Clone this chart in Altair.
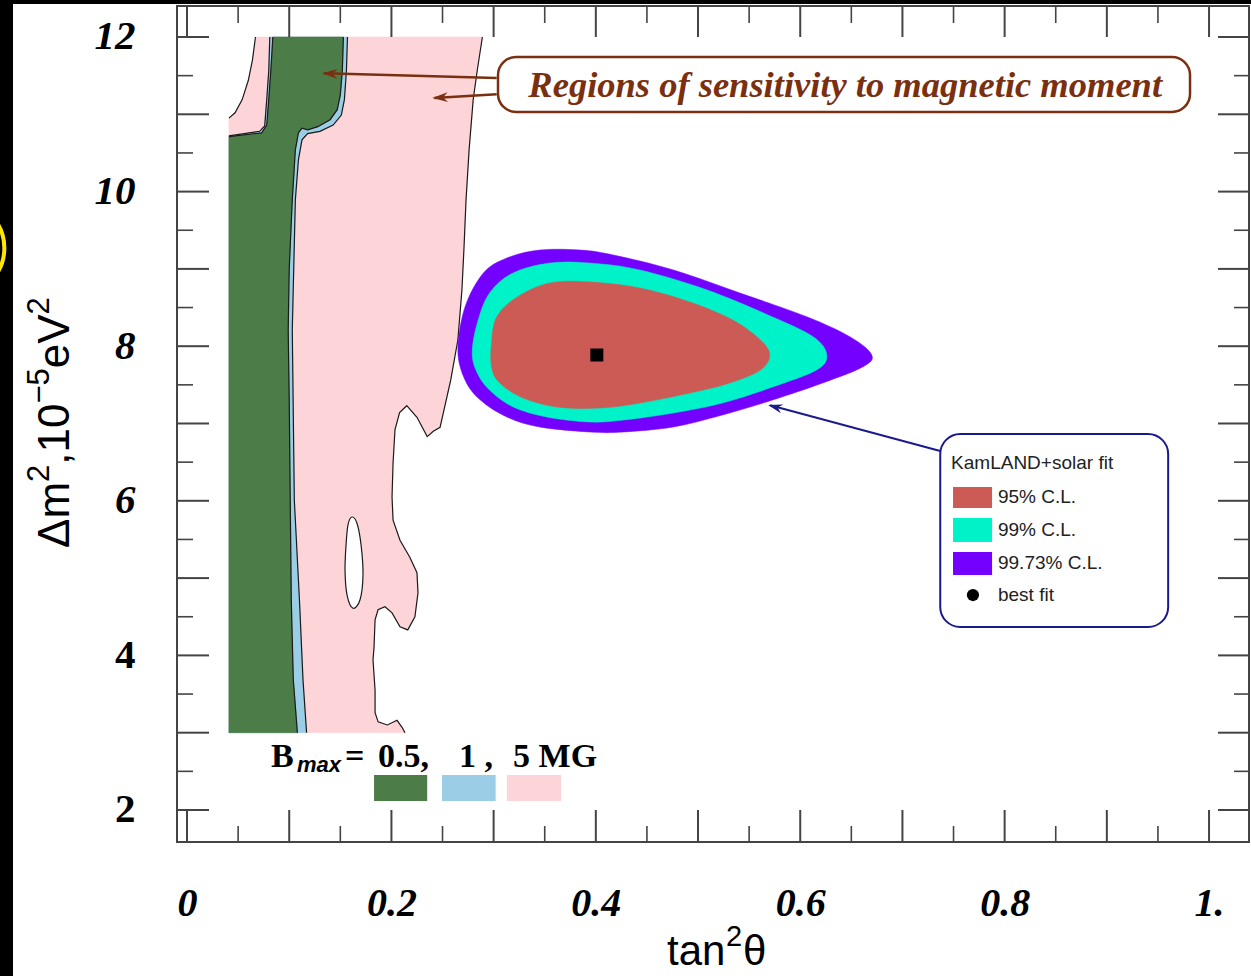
import altair as alt
import pandas as pd

# ---------------------------------------------------------------- frame / axes
X_DOMAIN = [-0.0098, 1.0391]
Y_DOMAIN = [1.586, 12.401]
W, H = 1072, 836

x_major = [0.0, 0.1, 0.2, 0.3, 0.4, 0.5, 0.6, 0.7, 0.8, 0.9, 1.0]
x_minor = [0.05, 0.15, 0.25, 0.35, 0.45, 0.55, 0.65, 0.75, 0.85, 0.95]
y_major = [2, 3, 4, 5, 6, 7, 8, 9, 10, 11, 12]
y_minor = [2.5, 3.5, 4.5, 5.5, 6.5, 7.5, 8.5, 9.5, 10.5, 11.5]
x_labels = [0.0, 0.2, 0.4, 0.6, 0.8, 1.0]
y_labels = [2, 4, 6, 8, 10, 12]

# axis titles, written piece by piece so the exponents can be raised
x_title_text = ["tan", "2", "θ"]
y_title_text = ["Δm", "2", ",10", "−5", "eV", "2"]

# edges of the computed sensitivity map (no contour line is drawn along them)
MAP_LEFT, MAP_BOTTOM, MAP_TOP = 0.041, 3.0, 12.0

# ---------------------------------------------------------------- B_max regions
region_5MG = [
    (0.067, 12.0), (0.289, 12.0), (0.284, 11.57), (0.280, 11.19), (0.276, 10.54),
    (0.273, 9.89), (0.271, 9.27), (0.269, 8.73), (0.265, 8.08), (0.258, 7.56),
    (0.2476, 6.95), (0.241, 6.90), (0.235, 6.83), (0.225, 7.08), (0.215, 7.23),
    (0.208, 7.14), (0.2035, 6.92), (0.2016, 6.49), (0.2006, 6.05), (0.2016, 5.75),
    (0.2084, 5.49), (0.218, 5.27), (0.225, 5.07), (0.226, 4.81), (0.223, 4.50),
    (0.216, 4.33), (0.2084, 4.37), (0.2006, 4.55), (0.1937, 4.63), (0.1869, 4.59),
    (0.184, 4.46), (0.183, 4.11), (0.182, 3.94), (0.184, 3.55), (0.184, 3.26),
    (0.187, 3.14), (0.196, 3.10), (0.2055, 3.16), (0.2104, 3.07), (0.2133, 3.0),
    (0.041, 3.0), (0.041, 10.95), (0.047, 11.02), (0.054, 11.19), (0.060, 11.44),
    (0.064, 11.70),
]
hole_5MG = [
    (0.1614, 5.79), (0.1575, 5.69), (0.1556, 5.43), (0.1546, 5.10), (0.1566, 4.78),
    (0.1624, 4.61), (0.1693, 4.72), (0.1722, 5.04), (0.1703, 5.43), (0.1663, 5.71),
]
region_1MG = [
    (0.081, 12.0), (0.157, 12.0), (0.156, 11.57), (0.154, 11.19), (0.151, 10.99),
    (0.143, 10.86), (0.130, 10.78), (0.118, 10.75), (0.1125, 10.67), (0.109, 10.41),
    (0.106, 9.89), (0.103, 8.21), (0.105, 6.01), (0.110, 4.72), (0.1135, 3.68),
    (0.117, 3.0), (0.041, 3.0), (0.041, 10.72), (0.071, 10.78), (0.076, 10.85),
    (0.078, 11.19), (0.080, 11.57),
]
region_05MG = [
    (0.084, 12.0), (0.153, 12.0), (0.152, 11.57), (0.150, 11.25), (0.147, 11.06),
    (0.140, 10.93), (0.128, 10.84), (0.118, 10.80), (0.1125, 10.82), (0.109, 10.76),
    (0.106, 10.54), (0.103, 9.89), (0.100, 9.0), (0.099, 8.21), (0.100, 7.30),
    (0.101, 6.01), (0.102, 4.72), (0.104, 3.68), (0.108, 3.0), (0.041, 3.0),
    (0.041, 10.71), (0.073, 10.76), (0.078, 10.86), (0.080, 11.19), (0.082, 11.57),
]

# ---------------------------------------------------------------- KamLAND + solar contours
cl_9973 = [
    (0.265, 7.951), (0.272, 8.507), (0.290, 8.947), (0.313, 9.141), (0.345, 9.244),
    (0.385, 9.244), (0.417, 9.180), (0.476, 8.986), (0.541, 8.688), (0.607, 8.378),
    (0.649, 8.119), (0.670, 7.886), (0.661, 7.731), (0.622, 7.524), (0.573, 7.304),
    (0.524, 7.110), (0.476, 6.955), (0.427, 6.890), (0.394, 6.890), (0.345, 6.955),
    (0.313, 7.084), (0.287, 7.304), (0.272, 7.563),
]
cl_99 = [
    (0.279, 7.912), (0.284, 8.300), (0.296, 8.688), (0.319, 8.947), (0.355, 9.076),
    (0.394, 9.076), (0.443, 8.986), (0.509, 8.727), (0.573, 8.378), (0.613, 8.119),
    (0.626, 7.886), (0.616, 7.692), (0.573, 7.472), (0.524, 7.265), (0.476, 7.136),
    (0.427, 7.045), (0.394, 7.019), (0.352, 7.084), (0.319, 7.214), (0.296, 7.433),
    (0.284, 7.653),
]
cl_95 = [
    (0.298, 8.041), (0.303, 8.378), (0.323, 8.636), (0.355, 8.818), (0.394, 8.831),
    (0.443, 8.753), (0.492, 8.572), (0.534, 8.339), (0.561, 8.080), (0.570, 7.886),
    (0.561, 7.692), (0.531, 7.524), (0.492, 7.394), (0.443, 7.265), (0.404, 7.200),
    (0.362, 7.214), (0.329, 7.330), (0.306, 7.524), (0.298, 7.731),
]
best_fit = (0.401, 7.886)

# ---------------------------------------------------------------- colours
PINK, LIGHTBLUE, GREEN = "#FDD5D8", "#9CCDE6", "#4C7D49"
C95, C99, C9973 = "#CD5B55", "#00F2C8", "#7400FF"
BROWN, NAVY = "#7A3010", "#1A1A8C"

ARROW = "M0,0 L1.6,-0.5 L1.1,0 L1.6,0.5 Z"   # arrow head pointing left, tip at origin

xs = alt.Scale(domain=X_DOMAIN, nice=False, zero=False)
ys = alt.Scale(domain=Y_DOMAIN, nice=False, zero=False)

x_axis = alt.Axis(
    values=x_labels, format=".1~f", labelExpr="datum.value >= 1 ? '1.' : datum.label",
    ticks=False, tickSize=0, domain=False, grid=False, labelFlush=False, labelOverlap=False,
    labelPadding=41, labelFont="Liberation Serif", labelFontSize=40, labelFontWeight="bold",
    labelFontStyle="italic", labelColor="black",
)
y_axis = alt.Axis(
    values=y_labels, format="d", ticks=False, tickSize=0, domain=False, grid=False,
    labelFlush=False, labelOverlap=False, labelPadding=42, labelFont="Liberation Serif",
    labelFontSize=41, labelFontWeight="bold",
    labelFontStyle={"condition": {"test": "datum.value <= 4", "value": "normal"}, "value": "italic"},
    labelColor="black",
)
X = alt.X("x:Q", scale=xs, axis=x_axis, title=None)
Y = alt.Y("y:Q", scale=ys, axis=y_axis, title=None)


def ring_df(pts):
    return pd.DataFrame({"x": [p[0] for p in pts], "y": [p[1] for p in pts],
                         "i": list(range(len(pts)))})


def outline_runs(pts):
    """Split a closed ring into the open polylines that are real contour lines."""
    n = len(pts)

    def clipped(a, b):
        return (a[1] == b[1] and a[1] in (MAP_BOTTOM, MAP_TOP)) or (a[0] == b[0] == MAP_LEFT)

    start = next(k for k in range(n) if clipped(pts[k], pts[(k + 1) % n])) + 1
    runs, cur = [], []
    for j in range(n):
        k = (start + j) % n
        a, b = pts[k], pts[(k + 1) % n]
        if clipped(a, b):
            if cur:
                runs.append(cur)
                cur = []
        else:
            if not cur:
                cur = [a]
            cur.append(b)
    if cur:
        runs.append(cur)
    rows = []
    for s, run in enumerate(runs):
        for i, p in enumerate(run):
            rows.append({"x": p[0], "y": p[1], "i": i, "seg": s})
    return pd.DataFrame(rows)


def filled(pts, color, interp="linear-closed"):
    return alt.Chart(ring_df(pts)).mark_line(
        fill=color, stroke=color, strokeWidth=0.5, interpolate=interp
    ).encode(x=X, y=Y, order=alt.Order("i:Q"))


def outline(pts):
    return alt.Chart(outline_runs(pts)).mark_line(
        stroke="#1a1a1a", strokeWidth=1.2, interpolate="linear"
    ).encode(x=X, y=Y, detail="seg:N", order=alt.Order("i:Q"))


one = pd.DataFrame({"k": [0]})


def label(text, px, py, size, angle=0):
    """A free-standing piece of title text placed in view pixels."""
    return alt.Chart(one).mark_text(
        text=text, font="Liberation Sans", fontSize=size, color="black",
        align="left", baseline="alphabetic", angle=angle,
    ).encode(x=alt.value(px), y=alt.value(py))


# black strips and ring at the page edge
edge = [
    alt.Chart(one).mark_rect(color="black").encode(
        x=alt.value(-177), x2=alt.value(-164), y=alt.value(-6), y2=alt.value(970)),
    alt.Chart(one).mark_rect(color="black").encode(
        x=alt.value(-177), x2=alt.value(1074), y=alt.value(-6), y2=alt.value(-2)),
    alt.Chart(one).mark_point(shape="circle", filled=False, stroke="#FFE600", strokeWidth=4,
                              size=8600, opacity=1).encode(x=alt.value(-219), y=alt.value(242)),
]

# axis titles: tan^2(theta) below, Delta m^2 , 10^-5 eV^2 rotated on the left
titles = [
    label(x_title_text[0], 490, 959, 42),
    label(x_title_text[1], 549, 940, 29),
    label(x_title_text[2], 566, 959, 42),
]
y_piece_start = [542, 476, 458.8, 397.6, 362.3, 308.5]
for txt, start in zip(y_title_text, y_piece_start):
    sup = txt in ("2", "−5")
    titles.append(label(txt, -128 if sup else -108, start, 31 if sup else 44, angle=270))

# frame ticks (pointing inwards on all four sides)
def xticks(vals, top_len, bot_len, width):
    d = pd.DataFrame({"x": vals})
    return [
        alt.Chart(d).mark_rule(color="#444", strokeWidth=width).encode(
            x=X, y=alt.value(0), y2=alt.value(top_len)),
        alt.Chart(d).mark_rule(color="#444", strokeWidth=width).encode(
            x=X, y=alt.value(H), y2=alt.value(H - bot_len)),
    ]


def yticks(vals, left_len, right_len, width):
    d = pd.DataFrame({"y": vals})
    return [
        alt.Chart(d).mark_rule(color="#444", strokeWidth=width).encode(
            y=Y, x=alt.value(0), x2=alt.value(left_len)),
        alt.Chart(d).mark_rule(color="#444", strokeWidth=width).encode(
            y=Y, x=alt.value(W), x2=alt.value(W - right_len)),
    ]


ticks = (xticks(x_major, 31, 32, 2) + xticks(x_minor, 17, 16, 1.6)
         + yticks(y_major, 32, 31, 2) + yticks(y_minor, 16, 15, 1.6))

regions = [
    filled(region_5MG, PINK), outline(region_5MG),
    filled(hole_5MG, "white", "cardinal-closed"),
    alt.Chart(ring_df(hole_5MG)).mark_line(
        stroke="#1a1a1a", strokeWidth=1.2, interpolate="cardinal-closed"
    ).encode(x=X, y=Y, order=alt.Order("i:Q")),
    filled(region_1MG, LIGHTBLUE), outline(region_1MG),
    filled(region_05MG, GREEN), outline(region_05MG),
]

contours = [
    filled(cl_9973, C9973, "cardinal-closed"),
    filled(cl_99, C99, "cardinal-closed"),
    filled(cl_95, C95, "cardinal-closed"),
    alt.Chart(pd.DataFrame({"x": [best_fit[0]], "y": [best_fit[1]]})).mark_square(
        size=169, color="black", opacity=1).encode(x=X, y=Y),
]

# annotation: regions of sensitivity
annot_box = pd.DataFrame({"x": [0.3043], "x2": [0.9814], "y": [11.741], "y2": [11.030]})
annot_text = pd.DataFrame({"x": [0.644], "y": [11.36],
                           "text": ["Regions of sensitivity to magnetic moment"]})
brown_lines = pd.DataFrame({"x": [0.303, 0.303], "y": [11.47, 11.26],
                            "x2": [0.134, 0.242], "y2": [11.53, 11.21]})
brown_heads = pd.DataFrame({"x": [0.132, 0.240], "y": [11.53, 11.21], "angle": [1.6, 356.5]})

annotation = [
    alt.Chart(brown_lines).mark_rule(color=BROWN, strokeWidth=2.5).encode(
        x=X, y=Y, x2="x2:Q", y2="y2:Q"),
    alt.Chart(brown_heads).mark_point(shape=ARROW, size=380, filled=True, fill=BROWN,
                                      strokeWidth=0, opacity=1).encode(
        x=X, y=Y, angle=alt.Angle("angle:Q", scale=None)),
    alt.Chart(annot_box).mark_rect(fill="white", stroke=BROWN, strokeWidth=2.5,
                                   cornerRadius=18).encode(x=X, x2="x2:Q", y=Y, y2="y2:Q"),
    alt.Chart(annot_text).mark_text(font="Liberation Serif", fontSize=36.5, fontWeight="bold",
                                    fontStyle="italic", color=BROWN, align="center",
                                    baseline="middle").encode(x=X, y=Y, text="text:N"),
]

# KamLAND+solar legend box with pointer
legend_box = pd.DataFrame({"x": [0.737], "x2": [0.960], "y": [6.864], "y2": [4.368]})
legend_title = pd.DataFrame({"x": [0.7476], "y": [6.411], "text": ["KamLAND+solar fit"]})
swatch_labels = ["95% C.L.", "99% C.L.", "99.73% C.L."]
swatch_colors = [C95, C99, C9973]
swatch_top = [6.179, 5.778, 5.338]
swatch_bottom = [5.907, 5.467, 5.040]
row_y = [6.049, 5.622, 5.195, 4.781]
row_text = swatch_labels + ["best fit"]
swatches = pd.DataFrame({"x": [0.7495] * 3, "x2": [0.7877] * 3, "y": swatch_top,
                         "y2": swatch_bottom, "c": swatch_colors})
rows = pd.DataFrame({"x": [0.7935] * 4, "y": row_y, "text": row_text})
blue_line = pd.DataFrame({"x": [0.737], "y": [6.644], "x2": [0.5705], "y2": [7.235]})
blue_head = pd.DataFrame({"x": [0.5685], "y": [7.239], "angle": [15.0]})

legend = [
    alt.Chart(blue_line).mark_rule(color=NAVY, strokeWidth=2).encode(
        x=X, y=Y, x2="x2:Q", y2="y2:Q"),
    alt.Chart(blue_head).mark_point(shape=ARROW, size=330, filled=True, fill=NAVY,
                                    strokeWidth=0, opacity=1).encode(
        x=X, y=Y, angle=alt.Angle("angle:Q", scale=None)),
    alt.Chart(legend_box).mark_rect(fill="white", stroke=NAVY, strokeWidth=2,
                                    cornerRadius=20).encode(x=X, x2="x2:Q", y=Y, y2="y2:Q"),
    alt.Chart(legend_title).mark_text(font="Liberation Sans", fontSize=19, color="#222",
                                      align="left", baseline="alphabetic").encode(
        x=X, y=Y, text="text:N"),
    alt.Chart(swatches).mark_rect().encode(
        x=X, x2="x2:Q", y=Y, y2="y2:Q", color=alt.Color("c:N", scale=None)),
    alt.Chart(rows).mark_text(font="Liberation Sans", fontSize=19, color="#222",
                              align="left", baseline="middle").encode(x=X, y=Y, text="text:N"),
    alt.Chart(pd.DataFrame({"x": [0.769], "y": [4.781]})).mark_circle(
        size=150, color="black", opacity=1).encode(x=X, y=Y),
]

# B_max key
bmax_serif = pd.DataFrame({"x": [0.0822, 0.1546, 0.1869, 0.2661, 0.3190],
                           "y": [2.556] * 5, "text": ["B", "=", "0.5,", "1 ,", "5 MG"]})
bmax_sub = pd.DataFrame({"x": [0.1076], "y": [2.492], "text": ["max"]})
bmax_colors = [GREEN, LIGHTBLUE, PINK]
bmax_swatches = pd.DataFrame({"x": [0.183, 0.2495, 0.313], "x2": [0.235, 0.302, 0.366],
                              "y": [2.453] * 3, "y2": [2.116] * 3, "c": bmax_colors})
bmax = [
    alt.Chart(bmax_serif).mark_text(font="Liberation Serif", fontSize=34, fontWeight="bold",
                                    color="black", align="left", baseline="alphabetic").encode(
        x=X, y=Y, text="text:N"),
    alt.Chart(bmax_sub).mark_text(font="Liberation Sans", fontSize=22, fontWeight="bold",
                                  fontStyle="italic", color="black", align="left",
                                  baseline="alphabetic").encode(x=X, y=Y, text="text:N"),
    alt.Chart(bmax_swatches).mark_rect().encode(
        x=X, x2="x2:Q", y=Y, y2="y2:Q", color=alt.Color("c:N", scale=None)),
]

chart = alt.layer(*(edge + regions + contours + annotation + legend + bmax + ticks + titles)).properties(
    width=W, height=H,
    padding={"left": 177, "top": 6, "right": 2, "bottom": 134},
    autosize=alt.AutoSizeParams(type="none"),
    background="white",
).configure_view(stroke="#444", strokeWidth=2)

chart.save("out.html", embed_options={"renderer": "svg", "actions": False})
